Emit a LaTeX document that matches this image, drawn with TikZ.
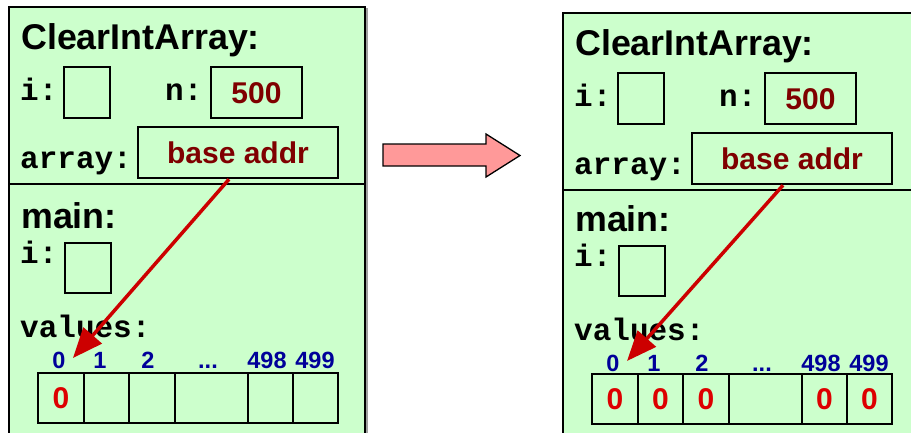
\documentclass[tikz,border=0pt]{standalone}
\usepackage{fontspec}
\setmainfont{Liberation Sans}
\newfontfamily\monof{Liberation Mono}
\usetikzlibrary{arrows.meta,calc}

\definecolor{framegreen}{HTML}{CCFFCC}
\definecolor{valmaroon}{HTML}{7F0000}
\definecolor{idxblue}{HTML}{000099}
\definecolor{zerored}{HTML}{DD0000}
\definecolor{ptrred}{HTML}{CC0000}
\definecolor{bigarrow}{HTML}{FF9999}
\definecolor{shadowgray}{HTML}{A0A0A0}

\tikzset{
  frame/.style={draw=black, line width=2pt, fill=framegreen},
  frameshadow/.style={draw=shadowgray, line width=2pt},
  varbox/.style={draw=black, line width=2.5pt, inner sep=0pt,
    font=\fontsize{30}{30}\selectfont\bfseries, text=valmaroon,
    text height=21.5pt, text depth=0pt},
  titletext/.style={anchor=base west, inner sep=0pt,
    font=\fontsize{35.8}{36}\selectfont\bfseries},
  monotext/.style={anchor=base west, inner sep=0pt,
    font=\fontsize{31}{31}\selectfont\monof\bfseries},
  idx/.style={anchor=base, inner sep=0pt,
    font=\fontsize{23.5}{24}\selectfont\bfseries, text=idxblue},
  cellbox/.style={draw=black, line width=2.5pt, inner sep=0pt,
    minimum height=50pt, text=zerored,
    font=\fontsize{30}{30}\selectfont\bfseries,
    text height=21.5pt, text depth=0pt},
  ptr/.style={draw=ptrred, line width=3.5pt,
    -{Triangle[length=30pt,width=24pt]}},
  pinkarrow/.style={draw=black, line width=1.3pt, fill=bigarrow, line join=miter},
}

% #1 prefix, #2 x shift, #3 upper dy, #4 lower dy, #5 cells dy, #6 other cells content
\newcommand\stackpanel[6]{%
  \begin{scope}[xshift=#2pt]
    \begin{scope}[yshift=-#3pt]
      \draw[frameshadow] (11,9) rectangle (367,186);
      \draw[frameshadow] (11,186) rectangle (367,460);
      \draw[frame] (9,7) rectangle (365,184);
      \draw[frame] (9,184) rectangle (365,458);
      \node[titletext] (#1title) at (21,49) {ClearIntArray:};
      \node[monotext] (#1ilab) at (20,100) {i:};
      \node[varbox, minimum width=46pt, minimum height=51pt] (#1i) at (87,92.5) {};
      \node[monotext] (#1nlab) at (165,100) {n:};
      \node[varbox, minimum width=91pt, minimum height=51pt] (#1n) at (256.5,92.5) {500};
      \node[monotext] (#1alab) at (20,168) {array:};
      \node[varbox, minimum width=200pt, minimum height=51pt] (#1addr) at (238,152.5) {base addr};
    \end{scope}
    \begin{scope}[yshift=-#4pt]
      \node[titletext] (#1main) at (21,228) {main:};
      \node[monotext] (#1milab) at (20,263) {i:};
      \node[varbox, minimum width=46pt, minimum height=50pt] (#1mi) at (88,268) {};
      \node[monotext] (#1vlab) at (20,337) {values:};
      \node[idx] (#1x0) at (59,368) {0};
      \node[idx] (#1x1) at (100,368) {1};
      \node[idx] (#1x2) at (148,368) {2};
      \node[idx] (#1x3) at (208,368) {...};
      \node[idx] (#1x4) at (267,368) {498};
      \node[idx] (#1x5) at (315,368) {499};
      \coordinate (#1tip) at (73,358);
    \end{scope}
    \begin{scope}[yshift=-#5pt]
      \node[cellbox, minimum width=46pt] (#1c0) at (61,398) {0};
      \node[cellbox, minimum width=45pt] (#1c1) at (106.5,398) {#6};
      \node[cellbox, minimum width=46pt] (#1c2) at (152,398) {#6};
      \node[cellbox, minimum width=73pt] (#1c3) at (211.5,398) {};
      \node[cellbox, minimum width=45pt] (#1c4) at (270.5,398) {#6};
      \node[cellbox, minimum width=45pt] (#1c5) at (315.5,398) {#6};
    \end{scope}
    \draw[ptr] ($(#1addr.south)+(-9,0)$) -- (#1tip);
  \end{scope}%
}

\begin{document}
\begin{tikzpicture}[x=1pt,y=-1pt]
  \useasboundingbox (0,0) rectangle (911,432);
  \clip (0,0) rectangle (911,432);
  \fill[white] (0,0) rectangle (911,432);

  \stackpanel{L}{0}{0}{0}{0}{}
  \stackpanel{R}{554}{6}{3}{1}{0}

  \draw[pinkarrow] (383,144) -- (486,144) -- (486,134) -- (520,155.5)
    -- (486,177) -- (486,166) -- (383,166) -- cycle;
\end{tikzpicture}
\end{document}
